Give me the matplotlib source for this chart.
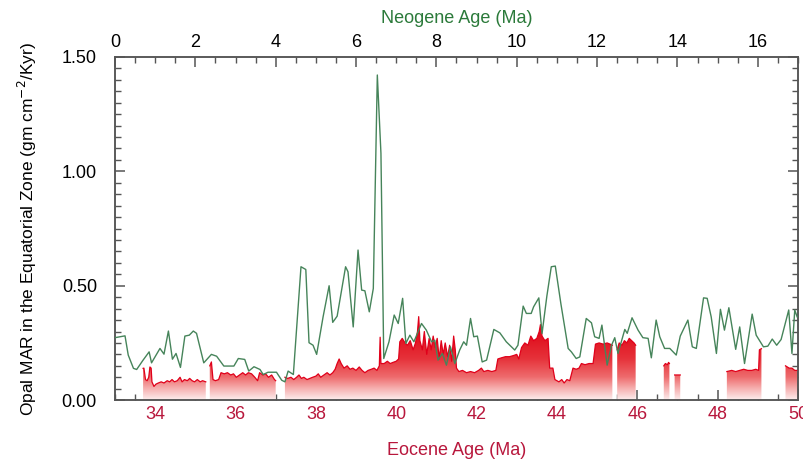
import numpy as np
import matplotlib
matplotlib.use("Agg")
import matplotlib.pyplot as plt
from matplotlib.colors import LinearSegmentedColormap
from matplotlib.path import Path
from matplotlib.ticker import MultipleLocator, FormatStrFormatter

plt.rcParams['font.family'] = ['Liberation Sans', 'DejaVu Sans']

# Neogene opal MAR (top axis, Ma)
neo_age = [0.0, 0.25, 0.33, 0.46, 0.54, 0.70, 0.85, 0.91, 1.12, 1.22, 1.33, 1.43, 1.52, 1.63,
           1.74, 1.85, 1.95, 2.03, 2.21, 2.40, 2.53, 2.71, 2.96, 3.07, 3.23, 3.33, 3.46, 3.61,
           3.69, 3.81, 4.02, 4.15, 4.23, 4.31, 4.44, 4.63, 4.75, 4.83, 4.93, 5.02, 5.18, 5.33,
           5.42, 5.53, 5.74, 5.80, 5.93, 6.05, 6.14, 6.22, 6.33, 6.43, 6.53, 6.62, 6.69, 6.82,
           6.95, 7.05, 7.16, 7.24, 7.34, 7.44, 7.63, 7.75, 7.88, 7.96, 8.04, 8.15, 8.25, 8.35,
           8.46, 8.58, 8.68, 8.75, 8.85, 8.93, 9.02, 9.14, 9.25, 9.43, 9.58, 9.74, 9.95, 10.03,
           10.16, 10.24, 10.36, 10.42, 10.55, 10.63, 10.75, 10.86, 10.96, 11.10, 11.28, 11.36,
           11.48, 11.57, 11.73, 11.86, 11.94, 12.05, 12.12, 12.25, 12.36, 12.44, 12.52, 12.69,
           12.75, 12.87, 13.02, 13.14, 13.27, 13.35, 13.47, 13.56, 13.68, 13.81, 13.97, 14.07,
           14.26, 14.37, 14.47, 14.65, 14.74, 14.84, 14.97, 15.07, 15.17, 15.28, 15.45, 15.55,
           15.67, 15.86, 15.96, 16.14, 16.25, 16.36, 16.47, 16.58, 16.77, 16.85, 16.92, 16.98]
neo_opal = [0.273, 0.281, 0.197, 0.139, 0.134, 0.175, 0.211, 0.163, 0.226, 0.201, 0.302, 0.179,
            0.204, 0.143, 0.280, 0.284, 0.302, 0.292, 0.163, 0.200, 0.192, 0.149, 0.149, 0.182,
            0.178, 0.127, 0.146, 0.134, 0.112, 0.122, 0.122, 0.087, 0.080, 0.127, 0.112, 0.583,
            0.571, 0.251, 0.240, 0.200, 0.364, 0.500, 0.340, 0.367, 0.583, 0.561, 0.320, 0.656,
            0.481, 0.478, 0.386, 0.488, 1.421, 1.079, 0.182, 0.255, 0.372, 0.335, 0.445, 0.248,
            0.284, 0.255, 0.335, 0.306, 0.255, 0.262, 0.175, 0.204, 0.153, 0.233, 0.160, 0.219,
            0.255, 0.240, 0.357, 0.277, 0.280, 0.167, 0.175, 0.309, 0.294, 0.255, 0.219, 0.240,
            0.411, 0.379, 0.379, 0.408, 0.447, 0.291, 0.455, 0.583, 0.586, 0.420, 0.226, 0.211,
            0.182, 0.189, 0.357, 0.338, 0.277, 0.270, 0.328, 0.153, 0.240, 0.273, 0.204, 0.309,
            0.292, 0.360, 0.306, 0.273, 0.270, 0.185, 0.350, 0.277, 0.226, 0.226, 0.197, 0.280,
            0.350, 0.233, 0.226, 0.447, 0.445, 0.364, 0.204, 0.397, 0.306, 0.404, 0.222, 0.320,
            0.160, 0.376, 0.284, 0.233, 0.236, 0.267, 0.240, 0.265, 0.394, 0.204, 0.394, 0.364]

# Eocene opal MAR (bottom axis, Ma); NaN marks gaps in the record
eo_age = [33.70, 33.72, 33.76, 33.80, 33.84, 33.87, 33.90, 33.92, 33.97, 34.02, 34.08, 34.15,
          34.22, 34.30, 34.36, 34.42, 34.48, 34.55, 34.62, 34.67, 34.73, 34.80, 34.86, 34.92,
          34.98, 35.05, 35.12, 35.18, 35.26, 35.31,
          35.36, 35.40, 35.44, 35.50, 35.58, 35.64, 35.72, 35.80, 35.88, 35.95, 36.02, 36.10,
          36.18, 36.25, 36.32, 36.40, 36.48, 36.55, 36.60, 36.68, 36.75, 36.82, 36.90, 36.97,
          37.00, 37.10,
          37.23, 37.30, 37.38, 37.45, 37.52, 37.58, 37.64, 37.70, 37.78, 37.85, 37.92, 38.00,
          38.06, 38.12, 38.20, 38.28, 38.35, 38.42, 38.48, 38.53, 38.58, 38.63, 38.70, 38.78,
          38.85, 38.92, 39.00, 39.08, 39.15, 39.22, 39.30, 39.38, 39.45, 39.52, 39.58, 39.60,
          39.62, 39.70, 39.78, 39.85, 39.92, 40.00, 40.06, 40.09, 40.15, 40.22, 40.28, 40.35,
          40.42, 40.48, 40.53, 40.56, 40.59, 40.65, 40.70, 40.76, 40.82, 40.87, 40.92, 40.97,
          41.02, 41.07, 41.12, 41.17, 41.22, 41.28, 41.33, 41.38, 41.43, 41.47, 41.50, 41.56,
          41.65, 41.75, 41.85, 41.95, 42.05, 42.12, 42.18, 42.28, 42.38, 42.48, 42.53, 42.62,
          42.72, 42.82, 42.92, 43.00, 43.05, 43.12, 43.20, 43.28, 43.35, 43.42, 43.50, 43.56,
          43.59, 43.63, 43.70, 43.78, 43.82, 43.90, 43.95, 44.05, 44.12, 44.18, 44.25, 44.32,
          44.40, 44.48, 44.55, 44.61, 44.70, 44.80, 44.90, 44.96, 45.05, 45.15, 45.25, 45.32,
          45.38, 45.44,
          45.50, 45.55, 45.62, 45.68, 45.74, 45.80, 45.86, 45.92, 45.96, 46.30,
          46.66, 46.70, 46.75, 46.78, 46.80, 46.86,
          46.93, 47.00, 47.07, 47.60,
          48.23, 48.35, 48.45, 48.55, 48.65, 48.75, 48.85, 48.95, 49.02, 49.04, 49.09, 49.40,
          49.69, 49.78, 49.85, 49.92, 50.00]
eo_opal = [0.139, 0.140, 0.090, 0.085, 0.100, 0.145, 0.140, 0.080, 0.060, 0.070, 0.075, 0.080,
           0.075, 0.085, 0.080, 0.090, 0.080, 0.085, 0.100, 0.080, 0.090, 0.085, 0.095, 0.085,
           0.080, 0.090, 0.080, 0.085, 0.080, np.nan,
           0.150, 0.167, 0.090, 0.085, 0.090, 0.120, 0.115, 0.120, 0.110, 0.115, 0.100, 0.110,
           0.120, 0.110, 0.120, 0.115, 0.100, 0.085, 0.120, 0.110, 0.115, 0.100, 0.110, 0.090,
           0.085, np.nan,
           0.100, 0.095, 0.100, 0.090, 0.100, 0.110, 0.095, 0.100, 0.090, 0.095, 0.100, 0.105,
           0.115, 0.100, 0.110, 0.120, 0.110, 0.120, 0.135, 0.160, 0.180, 0.160, 0.140, 0.150,
           0.135, 0.140, 0.130, 0.145, 0.130, 0.120, 0.130, 0.135, 0.140, 0.130, 0.150, 0.275,
           0.160, 0.160, 0.170, 0.160, 0.165, 0.170, 0.180, 0.255, 0.270, 0.250, 0.240, 0.260,
           0.220, 0.250, 0.300, 0.365, 0.260, 0.220, 0.300, 0.200, 0.270, 0.220, 0.280, 0.230,
           0.270, 0.180, 0.260, 0.200, 0.250, 0.190, 0.240, 0.170, 0.280, 0.220, 0.140, 0.125,
           0.130, 0.120, 0.125, 0.120, 0.130, 0.140, 0.125, 0.130, 0.125, 0.130, 0.180, 0.185,
           0.190, 0.190, 0.195, 0.200, 0.180, 0.230, 0.250, 0.240, 0.280, 0.260, 0.270, 0.300,
           0.330, 0.280, 0.260, 0.270, 0.140, 0.140, 0.090, 0.080, 0.090, 0.075, 0.090, 0.085,
           0.140, 0.135, 0.140, 0.160, 0.155, 0.160, 0.160, 0.245, 0.250, 0.245, 0.250, 0.245,
           0.240, np.nan,
           0.220, 0.250, 0.240, 0.260, 0.250, 0.270, 0.260, 0.250, 0.240, np.nan,
           0.150, 0.160, 0.155, 0.165, 0.160, np.nan,
           0.110, 0.110, 0.110, np.nan,
           0.125, 0.130, 0.125, 0.130, 0.135, 0.130, 0.130, 0.135, 0.130, 0.220, 0.225, np.nan,
           0.150, 0.140, 0.140, 0.130, 0.130]

green = '#46845a'
crimson = '#b8173c'
axis_grey = '#555555'

fig = plt.figure(figsize=(8.04, 4.61), dpi=100)
ax = fig.add_axes([0.143, 0.132, 0.8495, 0.7445])

x = np.array(eo_age)
y = np.array(eo_opal)

# red fill with a vertical gradient, clipped to the area under the record
fill = ax.fill_between(x, 0, y, facecolor='none', edgecolor='none')
clip = Path.make_compound_path(*fill.get_paths())
cmap = LinearSegmentedColormap.from_list('opal', [
    (0.0, '#fdeeee'), (0.12, '#f6b2b2'), (0.25, '#ee6b6d'),
    (0.45, '#e6323a'), (0.7, '#e0101e'), (1.0, '#dc0016')])
grad = np.linspace(0, 1, 256).reshape(-1, 1)
im = ax.imshow(grad, extent=[33, 50, 0, 0.4], origin='lower', aspect='auto',
               cmap=cmap, zorder=2, interpolation='bilinear')
im.set_clip_path(clip, transform=ax.transData)
ax.plot(x, y, color='#e0001a', lw=0.9, zorder=3)

ax.set_xlim(33, 50)
ax.set_ylim(0, 1.5)

ax2 = ax.twiny()
ax2.set_xlim(0, 17)
ax2.plot(neo_age, neo_opal, color=green, lw=1.0, zorder=4)

for a in (ax, ax2):
    for s in a.spines.values():
        s.set_color(axis_grey)
        s.set_linewidth(1.1)

ax.xaxis.set_major_locator(MultipleLocator(2))
ax.xaxis.set_minor_locator(MultipleLocator(0.5))
ax.yaxis.set_major_locator(MultipleLocator(0.5))
ax.yaxis.set_minor_locator(MultipleLocator(0.05))
ax.yaxis.set_major_formatter(FormatStrFormatter('%.2f'))
ax.tick_params(axis='both', which='both', direction='in', color=axis_grey,
               right=True, top=False, labelsize=13)
ax.tick_params(axis='both', which='major', length=7, width=1.1)
ax.tick_params(axis='both', which='minor', length=4, width=1.0)
ax.tick_params(axis='x', labelcolor=crimson, pad=4)
ax.tick_params(axis='y', pad=13)

ax2.xaxis.set_major_locator(MultipleLocator(2))
ax2.xaxis.set_minor_locator(MultipleLocator(0.5))
ax2.tick_params(axis='x', which='both', direction='in', color=axis_grey, labelsize=13, pad=4)
ax2.tick_params(axis='x', which='major', length=7, width=1.1)
ax2.tick_params(axis='x', which='minor', length=4, width=1.0)

ax.set_xlabel('Eocene Age (Ma)', color=crimson, fontsize=13, labelpad=14)
ax2.set_xlabel('Neogene Age (Ma)', color='#2b7a3a', fontsize=13, labelpad=8)
ax.set_ylabel('Opal MAR in the Equatorial Zone (gm cm$^{-2}$/Kyr)', fontsize=12.5, labelpad=16)

fig.savefig('out.png', dpi=100)
